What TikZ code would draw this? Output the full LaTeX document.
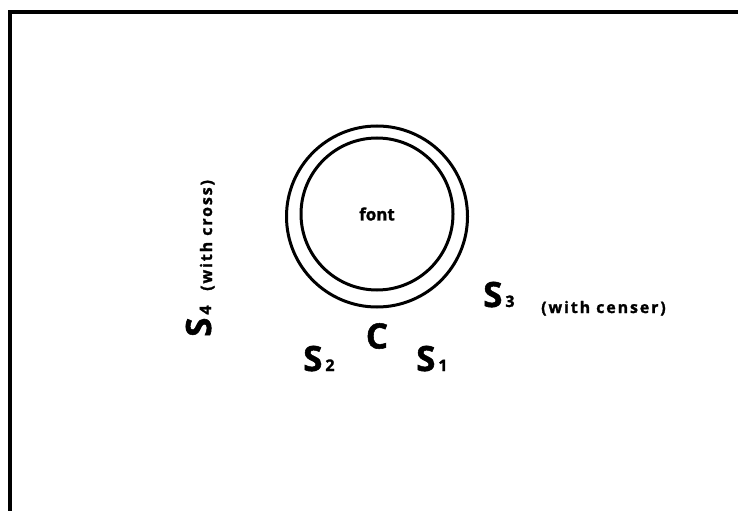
\documentclass[tikz,border=0pt]{standalone}
\usepackage{fontspec}
\setmainfont{Open Sans}[BoldFeatures={FakeBold=1.5}]
\usetikzlibrary{positioning}
\newcommand{\saint}[1]{{\fontsize{35}{35}\selectfont S}\hspace{3bp}{\fontsize{16}{16}\selectfont #1}}

\begin{document}
\begin{tikzpicture}[x=1bp,y=-1bp,
  font=\bfseries,
  ring/.style={draw,circle,line width=3bp,inner sep=0pt},
  big/.style={font=\bfseries\fontsize{35}{35}\selectfont,inner sep=0pt},
  lab/.style={anchor=base west,inner sep=0pt},
  note/.style={font=\bfseries\fontsize{16}{16}\selectfont\addfontfeature{LetterSpace=12},anchor=base west,inner sep=0pt},
  frame/.style={line width=4bp}]
\useasboundingbox (0,0) rectangle (738,511);
% page border (top and left)
\coordinate (bl) at (10,511);
\coordinate (tl) at (10,12.5);
\coordinate (tr) at (738,12.5);
\draw[frame] (bl) -- (tl) -- (tr);
% the font
\node[ring,minimum size=181bp] (outer) at (377,216.5) {};
\node[ring,minimum size=152bp,font=\bfseries\fontsize{17}{17}\selectfont] (inner) at (377,214) {font};
% celebrant and servers
\node[big] (c) at (377,336) {C};
\node[lab] (s2) at (303,371) {\saint{2}};
\node[lab] (s1) at (416,371) {\saint{1}};
\node[lab] (s3) at (483,307) {\saint{3}};
\node[note] (censer) at (541,313) {(with censer)};
\node[lab,rotate=90] (s4) at (211,337) {\saint{4}};
\node[note,rotate=90] (cross) at (212,291) {(with cross)};
\end{tikzpicture}
\end{document}
